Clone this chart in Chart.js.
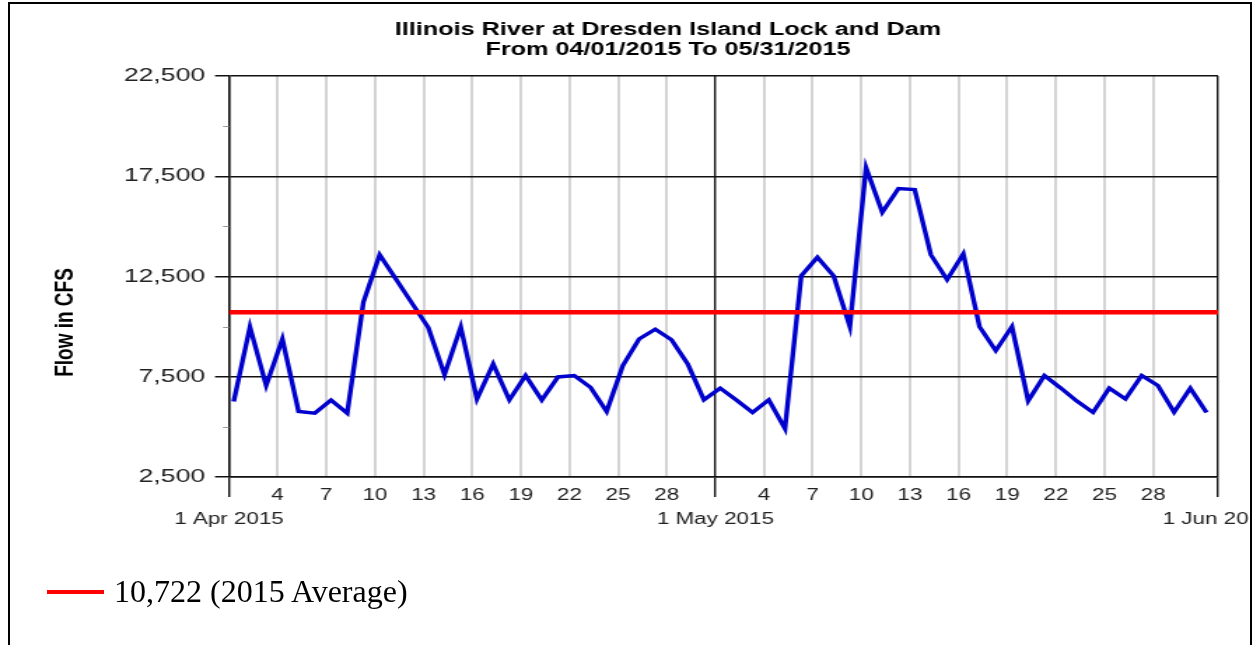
<!DOCTYPE html>
<html>
<head>
<meta charset="utf-8">
<title>Illinois River at Dresden Island Lock and Dam</title>
<script src="https://cdn.jsdelivr.net/npm/chart.js@4.4.1/dist/chart.umd.min.js"></script>
<style>
    html, body { margin: 0; padding: 0; background: #fff; }
    body { position: relative; width: 1253px; height: 645px; overflow: hidden; }
    #frame {
        position: absolute; left: 8px; top: 2px;
        width: 1240px; height: 700px;
        border: 2px solid #000; border-bottom: none;
        overflow: hidden;
    }
    #plot { position: absolute; left: -10px; top: -4px; }
    /* el gráfico se dibuja angosto y se estira a lo ancho */
    #plot canvas { transform: scaleX(1.4); transform-origin: 0 0; }
    #legend-swatch {
        position: absolute; left: 47px; top: 590px;
        width: 57px; height: 4px; background: #ff0000;
    }
    #legend-text {
        position: absolute; left: 114px; top: 575px;
        font: 32px/32px "Liberation Serif", "Times New Roman", serif;
        color: #000; white-space: nowrap;
    }
</style>
</head>
<body>
<div id="frame">
    <div id="plot"><canvas id="flowChart" width="960" height="645"></canvas></div>
</div>
<div id="legend-swatch"></div>
<div id="legend-text"></div>

<script>
// --- Datos: caudal diario, 1 abr 2015 - 31 may 2015 (CFS) ---
const FLOW = [
    6270, 9980, 7060, 9380, 5770, 5680, 6340, 5680, 11220, 13580,
    12370, 11160, 9950, 7610, 9980, 6390, 8140, 6340, 7560, 6340,
    7490, 7560, 6980, 5770, 8060, 9380, 9870, 9340, 8140, 6350,
    6930, 6340, 5720, 6350, 4910, 12530, 13460, 12530, 10000, 17930,
    15700, 16890, 16840, 13580, 12340, 13630, 10000, 8800, 10000, 6300,
    7560, 6940, 6290, 5720, 6930, 6390, 7560, 7060, 5730, 6930,
    5720
];
const AVG_FLOW = 10722;      // promedio 2015
const READ_HOUR = 7;         // hora de lectura diaria

// --- Ejes ---
const MONTH_OFFSETS = [0, 30, 61];   // días desde el 1 de abril
const MONTH_LABELS = ['1 Apr 2015', '1 May 2015', '1 Jun 2015'];
const DAY_LABELS = [4, 7, 10, 13, 16, 19, 22, 25, 28];
const Y_TICKS = [2500, 7500, 12500, 17500, 22500];
const Y_MINOR = [5000, 10000, 15000, 20000];

const TITLE_LINES = ['Illinois River at Dresden Island Lock and Dam', 'From 04/01/2015 To 05/31/2015'];
const Y_TITLE = 'Flow in CFS';
const LEGEND_TEXT = AVG_FLOW.toLocaleString('en-US') + ' (2015 Average)';

const FONT = '"Liberation Sans", Arial, sans-serif';

// etiquetas del eje x: día del mes y, en cada cambio de mes, la fecha completa
const xTickLabels = new Map();
MONTH_OFFSETS.forEach((m, k) => {
    xTickLabels.set(m, ['', MONTH_LABELS[k]]);
    if (k < MONTH_OFFSETS.length - 1) {
        DAY_LABELS.forEach(d => xTickLabels.set(m + d - 1, String(d)));
    }
});
const xTickValues = [...xTickLabels.keys()].sort((a, b) => a - b);
const isMonth = v => MONTH_OFFSETS.includes(v);

// marcas menores del eje y y título vertical
const axisExtras = {
    id: 'axisExtras',
    afterDraw(chart) {
        const { ctx, chartArea, scales } = chart;
        ctx.save();
        ctx.strokeStyle = '#999';
        ctx.lineWidth = 1;
        Y_MINOR.forEach(v => {
            const y = Math.round(scales.y.getPixelForValue(v)) + 0.5;
            ctx.beginPath();
            ctx.moveTo(chartArea.left - 4.3, y);
            ctx.lineTo(chartArea.left, y);
            ctx.stroke();
        });
        ctx.translate(46.4, chart.height / 2);
        ctx.rotate(-Math.PI / 2);
        ctx.font = 'bold 19px ' + FONT;
        ctx.fillStyle = '#000';
        ctx.textAlign = 'center';
        ctx.textBaseline = 'middle';
        ctx.fillText(Y_TITLE, 0, 0);
        ctx.restore();
    }
};

document.getElementById('legend-text').textContent = LEGEND_TEXT;

const ctx = document.getElementById('flowChart').getContext('2d');
new Chart(ctx, {
    type: 'line',
    data: {
        datasets: [
            {
                label: LEGEND_TEXT,
                data: [
                    { x: MONTH_OFFSETS[0], y: AVG_FLOW },
                    { x: MONTH_OFFSETS[MONTH_OFFSETS.length - 1], y: AVG_FLOW }
                ],
                borderColor: '#ff0000',
                borderWidth: 4.5,
                pointRadius: 0
            },
            {
                label: 'Flow',
                data: FLOW.map((v, i) => ({ x: i + READ_HOUR / 24, y: v })),
                borderColor: '#0000cc',
                borderWidth: 3.4,
                pointRadius: 0,
                tension: 0
            }
        ]
    },
    options: {
        responsive: false,
        animation: false,
        devicePixelRatio: 1,
        layout: { padding: { left: 84.3, right: 90, top: 0, bottom: 0 } },
        plugins: {
            legend: { display: false },
            tooltip: { enabled: false },
            title: {
                display: true,
                text: TITLE_LINES,
                color: '#000',
                font: { family: FONT, size: 18, weight: 'bold', lineHeight: '20px' },
                padding: { top: 20, bottom: 16 }
            }
        },
        scales: {
            x: {
                type: 'linear',
                min: MONTH_OFFSETS[0],
                max: MONTH_OFFSETS[MONTH_OFFSETS.length - 1],
                afterBuildTicks: s => { s.ticks = xTickValues.map(v => ({ value: v })); },
                afterFit: s => { s.height = 168; },
                ticks: {
                    autoSkip: false,
                    maxRotation: 0,
                    minRotation: 0,
                    padding: -13,
                    color: '#222',
                    font: { family: FONT, size: 16, lineHeight: '24px' },
                    callback: v => xTickLabels.get(v) ?? ''
                },
                grid: {
                    color: c => isMonth(c.tick.value) ? '#111' : '#d4d4d4',
                    lineWidth: c => isMonth(c.tick.value) ? 1.4 : 2,
                    tickLength: 20,
                    tickColor: c => isMonth(c.tick.value) ? '#111' : 'rgba(0,0,0,0)'
                },
                border: { color: '#111', width: 1.5 }
            },
            y: {
                min: Y_TICKS[0],
                max: Y_TICKS[Y_TICKS.length - 1],
                afterBuildTicks: s => { s.ticks = Y_TICKS.map(v => ({ value: v })); },
                afterFit: s => { s.width = 163.57 - 84.3; },
                ticks: {
                    padding: 7,
                    color: '#222',
                    font: { family: FONT, size: 19 },
                    callback: v => v.toLocaleString('en-US')
                },
                grid: { color: '#111', lineWidth: 1.5, tickLength: 10, tickColor: '#111' },
                border: { color: '#111', width: 1.4 }
            }
        }
    },
    plugins: [axisExtras]
});
</script>
</body>
</html>
